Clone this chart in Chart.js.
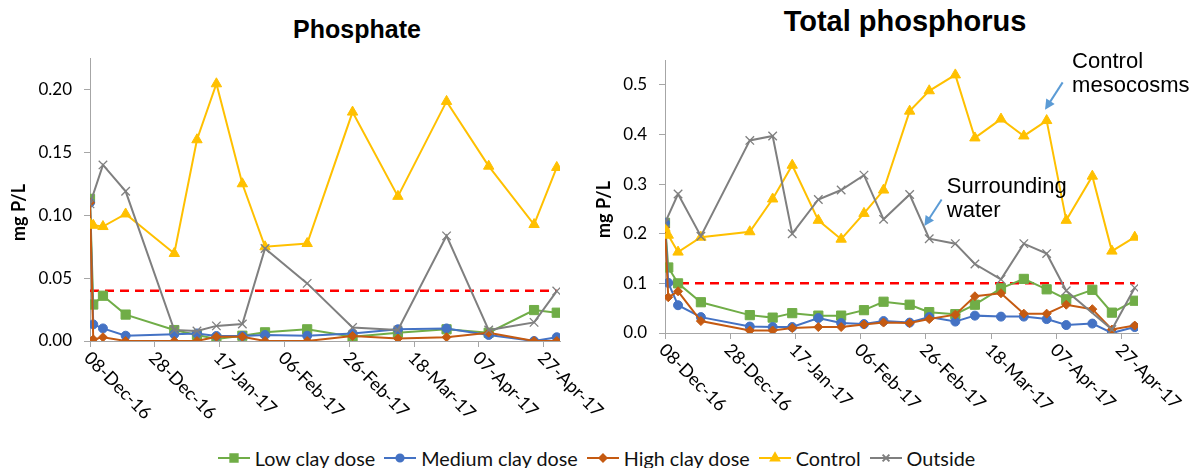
<!DOCTYPE html>
<html>
<head>
<meta charset="utf-8">
<script src="https://cdn.jsdelivr.net/npm/chart.js@4.4.1/dist/chart.umd.min.js"></script>
<style>
  body { margin: 0; background: #fff; width: 1193px; height: 468px; position: relative; overflow: hidden; font-family: Lato, sans-serif; }
  #phChart { position: absolute; left: 0; top: 0; }
  #tpChart { position: absolute; left: 590px; top: 0; }
  .title { position: absolute; width: 400px; text-align: center; font: bold 25px/1 "Liberation Sans", Arial, sans-serif; color: #000; }
  #legend { position: absolute; left: 0; top: 446px; width: 1193px; display: flex; justify-content: center; align-items: center; font-size: 19.8px; color: #111; }
  #legend .item { display: flex; align-items: center; margin: 0 4.5px; }
  #legend canvas { margin-right: 5px; }
</style>
</head>
<body>
<div class="title" style="left:157px; top:17px;">Phosphate</div>
<div class="title" style="left:705px; top:7px; font-size:29px;">Total phosphorus</div>
<canvas id="phChart" width="620" height="440"></canvas>
<canvas id="tpChart" width="603" height="440"></canvas>
<div id="legend"></div>

<script>
// Sampling days, counted from 08-Dec-16
const phDays = [0, 1, 4, 11, 26, 33, 39, 47, 54, 67, 81, 95, 110, 123, 137, 144];
const phOutsideDays = [0, 4, 11, 26, 33, 39, 47, 54, 67, 81, 95, 110, 123, 137, 144];
const tpDays = [0, 1, 4, 11, 26, 33, 39, 47, 54, 61, 67, 75, 81, 89, 95, 103, 110, 117, 123, 131, 137, 144];
const tpOutsideDays = [0, 4, 11, 26, 33, 39, 47, 54, 61, 67, 75, 81, 89, 95, 103, 110, 117, 123, 137, 144];

// Phosphate (mg P/L)
const phLow     = [0.113, 0.029, 0.036, 0.021, 0.0087, 0.0048, 0.0016, 0.0042, 0.0069, 0.0093, 0.0034, 0.0066, 0.0093, 0.0066, 0.0246, 0.0225];
const phMedium  = [0.110, 0.0132, 0.0100, 0.0042, 0.0053, 0.006, 0.004, 0.004, 0.0048, 0.0042, 0.006, 0.0093, 0.010, 0.0048, 0.000, 0.003];
const phHigh    = [0.110, 0.0013, 0.003, 0, 0, 0, 0.0034, 0.0034, 0, 0, 0.004, 0.002, 0.003, 0.0066, 0, 0];
const phControl = [0.093, 0.092, 0.091, 0.101, 0.0696, 0.160, 0.2045, 0.125, 0.0749, 0.0775, 0.182, 0.115, 0.1905, 0.139, 0.0926, 0.138];
const phOutside = [0.109, 0.140, 0.119, 0.0087, 0.008, 0.012, 0.0135, 0.0736, 0.0458, 0.0108, 0.0087, 0.0836, 0.0087, 0.0148, 0.0397];
const phLimit = 0.04;

// Total phosphorus (mg P/L)
const tpLow     = [0.222, 0.132, 0.100, 0.062, 0.036, 0.031, 0.040, 0.035, 0.035, 0.046, 0.063, 0.057, 0.042, 0.038, 0.057, 0.090, 0.109, 0.088, 0.068, 0.087, 0.041, 0.065];
const tpMedium  = [0.222, 0.101, 0.056, 0.032, 0.013, 0.012, 0.012, 0.030, 0.020, 0.018, 0.024, 0.021, 0.032, 0.023, 0.035, 0.033, 0.033, 0.028, 0.016, 0.019, 0.000, 0.012];
const tpHigh    = [0.212, 0.072, 0.084, 0.024, 0.005, 0.005, 0.010, 0.012, 0.012, 0.017, 0.021, 0.020, 0.028, 0.037, 0.074, 0.080, 0.039, 0.039, 0.057, 0.048, 0.007, 0.015];
const tpControl = [0.211, 0.197, 0.163, 0.193, 0.204, 0.270, 0.338, 0.227, 0.189, 0.241, 0.288, 0.447, 0.488, 0.520, 0.393, 0.431, 0.397, 0.428, 0.227, 0.316, 0.165, 0.193];
const tpOutside = [0.222, 0.280, 0.195, 0.388, 0.397, 0.200, 0.269, 0.288, 0.318, 0.229, 0.279, 0.190, 0.180, 0.139, 0.108, 0.180, 0.160, 0.085, 0.007, 0.091];
const tpLimit = 0.1;

const seriesNames = ['Low clay dose', 'Medium clay dose', 'High clay dose', 'Control', 'Outside'];
const xTickDays = [0, 20, 40, 60, 80, 100, 120, 140];

// Series look (Excel-like)
const styles = [
  { color: '#70AD47', pointStyle: 'rect', radius: 6.5 },
  { color: '#4472C4', pointStyle: 'circle', radius: 4.5 },
  { color: '#C55A11', pointStyle: 'rectRot', radius: 4.5 },
  { color: '#FFC000', pointStyle: 'triangle', radius: 6 },
  { color: '#7F7F7F', pointStyle: 'crossRot', radius: 6 }
];
const axisGray = '#a6a6a6';
const months = ['Jan', 'Feb', 'Mar', 'Apr', 'May', 'Jun', 'Jul', 'Aug', 'Sep', 'Oct', 'Nov', 'Dec'];

function dateLabel(day) {
  const d = new Date(2016, 11, 8 + day);
  return String(d.getDate()).padStart(2, '0') + '-' + months[d.getMonth()] + '-' + String(d.getFullYear()).slice(2);
}

function pts(days, vals) {
  return vals.map((v, i) => ({ x: days[i], y: v }));
}

function seriesDataset(i, data) {
  const s = styles[i];
  return {
    label: seriesNames[i],
    data: data,
    borderColor: s.color,
    backgroundColor: s.color,
    borderWidth: 2,
    pointStyle: s.pointStyle,
    pointRadius: s.radius,
    pointBorderWidth: s.pointStyle === 'crossRot' ? 1.3 : 1,
    pointBorderColor: s.color,
    pointBackgroundColor: s.color,
    tension: 0,
    order: 5 - i
  };
}

function limitDataset(value) {
  return {
    label: 'limit',
    data: [{ x: 0, y: value }, { x: 144, y: value }],
    borderColor: '#FF0000',
    borderWidth: 2.5,
    borderDash: [9, 6],
    pointRadius: 0,
    order: 10
  };
}

// Draws rotated date labels, the y title and the text notes
const excelLabels = {
  id: 'excelLabels',
  afterDraw(chart, args, opts) {
    const { ctx, scales: { x, y } } = chart;
    ctx.save();
    ctx.fillStyle = '#000';
    ctx.font = '18px Lato';
    ctx.textAlign = 'left';
    ctx.textBaseline = 'middle';
    x.ticks.forEach(t => {
      ctx.save();
      ctx.translate(x.getPixelForValue(t.value) - 3, x.top + 14);
      ctx.rotate(Math.PI / 4);
      ctx.fillText(dateLabel(t.value), 0, 0);
      ctx.restore();
    });

    ctx.font = 'bold 18px Lato';
    ctx.textAlign = 'center';
    ctx.save();
    ctx.translate(opts.titleX, (y.top + y.bottom) / 2 + 13);
    ctx.rotate(-Math.PI / 2);
    ctx.fillText('mg P/L', 0, 0);
    ctx.restore();

    (opts.notes || []).forEach(n => {
      ctx.font = '22px "Liberation Sans", Arial';
      ctx.textAlign = 'left';
      ctx.textBaseline = 'alphabetic';
      ctx.fillStyle = '#000';
      n.lines.forEach((line, k) => {
        ctx.fillText(line, x.getPixelForValue(n.textDay), y.getPixelForValue(n.textVal) + k * 24);
      });
      const x1 = x.getPixelForValue(n.from[0]), y1 = y.getPixelForValue(n.from[1]);
      const x2 = x.getPixelForValue(n.to[0]), y2 = y.getPixelForValue(n.to[1]);
      const a = Math.atan2(y2 - y1, x2 - x1);
      ctx.strokeStyle = '#5B9BD5';
      ctx.fillStyle = '#5B9BD5';
      ctx.lineWidth = 2;
      ctx.beginPath();
      ctx.moveTo(x1, y1);
      ctx.lineTo(x2 - 6 * Math.cos(a), y2 - 6 * Math.sin(a));
      ctx.stroke();
      ctx.beginPath();
      ctx.moveTo(x2, y2);
      ctx.lineTo(x2 - 10 * Math.cos(a) + 5 * Math.sin(a), y2 - 10 * Math.sin(a) - 5 * Math.cos(a));
      ctx.lineTo(x2 - 10 * Math.cos(a) - 5 * Math.sin(a), y2 - 10 * Math.sin(a) + 5 * Math.cos(a));
      ctx.closePath();
      ctx.fill();
    });
    ctx.restore();
  }
};

function makeChart(id, datasets, cfg) {
  return new Chart(document.getElementById(id), {
    type: 'line',
    data: { datasets: datasets },
    plugins: [excelLabels],
    options: {
      responsive: false,
      animation: false,
      layout: { padding: { left: 0, right: cfg.padRight, top: cfg.padTop, bottom: 0 } },
      plugins: {
        legend: { display: false },
        tooltip: { enabled: false },
        excelLabels: { titleX: cfg.titleX, notes: cfg.notes }
      },
      scales: {
        x: {
          type: 'linear',
          min: 0,
          max: 145,
          afterBuildTicks: s => { s.ticks = xTickDays.map(v => ({ value: v })); },
          ticks: { display: false },
          grid: { drawOnChartArea: false, tickLength: 6, color: axisGray },
          border: { color: axisGray },
          afterFit: s => { s.height = cfg.xHeight; }
        },
        y: {
          min: 0,
          max: cfg.yMax,
          ticks: {
            stepSize: cfg.yStep,
            includeBounds: false,
            padding: 12,
            color: '#000',
            font: { family: 'Lato', size: 17 },
            callback: v => v.toFixed(cfg.decimals)
          },
          grid: { drawOnChartArea: false, tickLength: 6, color: axisGray },
          border: { color: axisGray },
          afterFit: s => { s.width = cfg.yWidth; }
        }
      }
    }
  });
}

const phChart = makeChart('phChart', [
  seriesDataset(0, pts(phDays, phLow)),
  seriesDataset(1, pts(phDays, phMedium)),
  seriesDataset(2, pts(phDays, phHigh)),
  seriesDataset(3, pts(phDays, phControl)),
  seriesDataset(4, pts(phOutsideDays, phOutside)),
  limitDataset(phLimit)
], { padRight: 60, padTop: 58, xHeight: 99, yWidth: 90, yMax: 0.225, yStep: 0.05, decimals: 2, titleX: 19 });

const tpChart = makeChart('tpChart', [
  seriesDataset(0, pts(tpDays, tpLow)),
  seriesDataset(1, pts(tpDays, tpMedium)),
  seriesDataset(2, pts(tpDays, tpHigh)),
  seriesDataset(3, pts(tpDays, tpControl)),
  seriesDataset(4, pts(tpOutsideDays, tpOutside)),
  limitDataset(tpLimit)
], {
  padRight: 55, padTop: 60, xHeight: 107, yWidth: 75, yMax: 0.55, yStep: 0.1, decimals: 1, titleX: 14,
  notes: [
    { lines: ['Control', 'mesocosms'], textDay: 124.8, textVal: 0.533, from: [121.9, 0.505], to: [116.5, 0.45] },
    { lines: ['Surrounding', 'water'], textDay: 86.4, textVal: 0.282, from: [84.8, 0.269], to: [79.5, 0.2155] }
  ]
});

// Legend: line with marker, like Excel
const legend = document.getElementById('legend');
seriesNames.forEach((name, i) => {
  const item = document.createElement('div');
  item.className = 'item';
  const c = document.createElement('canvas');
  c.width = 32; c.height = 16;
  const g = c.getContext('2d');
  g.strokeStyle = styles[i].color;
  g.lineWidth = 2;
  g.beginPath(); g.moveTo(0, 8); g.lineTo(32, 8); g.stroke();
  g.fillStyle = styles[i].color;
  Chart.helpers.drawPoint(g, { pointStyle: styles[i].pointStyle, radius: styles[i].radius * 0.8, borderWidth: 1 }, 16, 8);
  const span = document.createElement('span');
  span.textContent = name;
  item.appendChild(c);
  item.appendChild(span);
  legend.appendChild(item);
});
</script>
</body>
</html>
